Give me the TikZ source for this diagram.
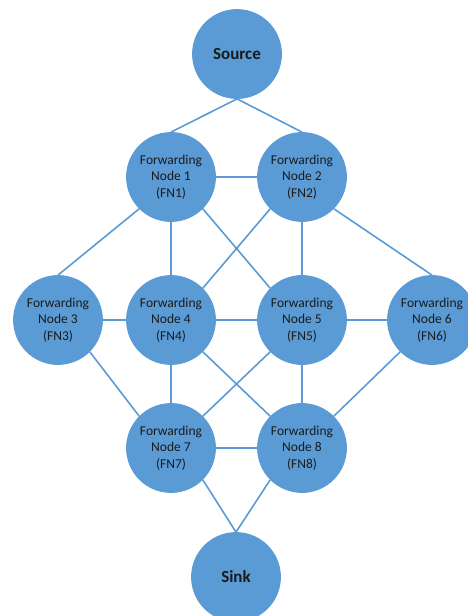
\documentclass[tikz,border=0pt]{standalone}
\usepackage{fontspec}
\setmainfont{Carlito}
\definecolor{nodeblue}{HTML}{5B9BD5}
\definecolor{txt}{HTML}{1A1A1A}
\begin{document}
\begin{tikzpicture}[x=1pt,y=-1pt,
  fnode/.style={circle,fill=nodeblue,draw=nodeblue,line width=0.8pt,
    minimum size=89pt,inner sep=0pt,align=center,text=txt,
    font=\fontsize{13.5}{16.7}\selectfont},
  endnode/.style={fnode,font=\fontsize{17}{20}\selectfont\bfseries},
  link/.style={draw=nodeblue,line width=1.6pt}]
\useasboundingbox (0,0) rectangle (468,616);
\clip (0,0) rectangle (468,616);

\node[endnode] (src) at (237,54) {Source};
\node[fnode] (fn1) at (171,177) {Forwarding\\Node 1\\(FN1)};
\node[fnode] (fn2) at (302,177) {Forwarding\\Node 2\\(FN2)};
\node[fnode] (fn3) at (58,320) {Forwarding\\Node 3\\(FN3)};
\node[fnode] (fn4) at (171,320) {Forwarding\\Node 4\\(FN4)};
\node[fnode] (fn5) at (302,320) {Forwarding\\Node 5\\(FN5)};
\node[fnode] (fn6) at (432,320) {Forwarding\\Node 6\\(FN6)};
\node[fnode] (fn7) at (171,448) {Forwarding\\Node 7\\(FN7)};
\node[fnode] (fn8) at (302,448) {Forwarding\\Node 8\\(FN8)};
\node[endnode] (sink) at (236,577) {Sink};

% connectors between fixed connection points on the circles
\path[link]
  (src.south) -- (fn1.north)
  (src.south) -- (fn2.north)
  (fn1.east) -- (fn2.west)
  (fn1.-135) -- (fn3.north)
  (fn1.south) -- (fn4.north)
  (fn1.-45) -- (fn5.135)
  (fn2.-135) -- (fn4.45)
  (fn2.south) -- (fn5.north)
  (fn2.-45) -- (fn6.north)
  (fn3.east) -- (fn4.west)
  (fn4.east) -- (fn5.west)
  (fn5.east) -- (fn6.west)
  (fn3.-45) -- (fn7.135)
  (fn4.south) -- (fn7.north)
  (fn4.-45) -- (fn8.135)
  (fn5.-135) -- (fn7.45)
  (fn5.south) -- (fn8.north)
  (fn6.-135) -- (fn8.45)
  (fn7.east) -- (fn8.west)
  (fn7.-45) -- (sink.north)
  (fn8.-135) -- (sink.north);
\end{tikzpicture}
\end{document}
